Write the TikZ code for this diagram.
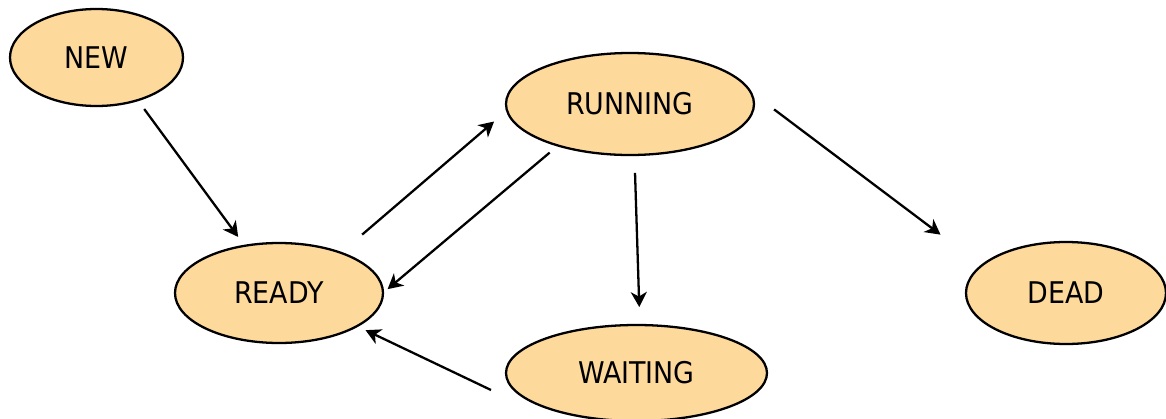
\documentclass[tikz,border=0pt]{standalone}
\usepackage{fontspec}
\setmainfont{DejaVu Sans Condensed}
\usepackage{xcolor}
\usepackage{tikz}
\usetikzlibrary{positioning,shapes.geometric}
\usetikzlibrary{arrows.meta}
\definecolor{statefill}{RGB}{253,217,155}

\begin{document}
\begin{tikzpicture}[line width=1.3pt, >={Stealth[length=0.3cm, width=0.32cm, inset=0.09cm]}]
	\useasboundingbox (0,0) rectangle (23.32,8.36);
	\begin{scope}[every node/.style={draw, ellipse, fill=statefill, inner sep=0pt, outer sep=0pt}, font=\fontsize{17}{20}\selectfont]
	    \node[minimum width=3.46cm, minimum height=1.94cm] (new) at (1.93,7.21) {NEW};
	    \node[minimum width=4.96cm, minimum height=2.04cm] (running) at (12.6,6.28) {RUNNING};
	    \node[minimum width=4.16cm, minimum height=2cm] (ready) at (5.58,2.5) {READY};
	    \node[minimum width=5.22cm, minimum height=1.92cm] (waiting) at (12.73,0.9) {WAITING};
	    \node[minimum width=4cm, minimum height=2.04cm] (dead) at (21.32,2.5) {DEAD};
	\end{scope}
	\coordinate[below left=0.34cm and 0.3cm of waiting.west] (wout);

	\path [->] (new.-46) edge [shorten <=0.22cm, shorten >=0.22cm] (ready.126);
	\path [->] (ready.33) edge [shorten <=0.56cm, shorten >=0.34cm] (running.183);
	\path [->] (running.210) edge [shorten <=0.22cm, shorten >=0.12cm] (ready.0);
	\path [->] (running.-85) edge [shorten <=0.36cm, shorten >=0.36cm] (waiting.86);
	\path [->] (running.6) edge [shorten <=0.6cm, shorten >=1.03cm] (dead.162);
	\path [->] (wout) edge [shorten >=0.19cm] (ready.-23);
\end{tikzpicture}
\end{document}
